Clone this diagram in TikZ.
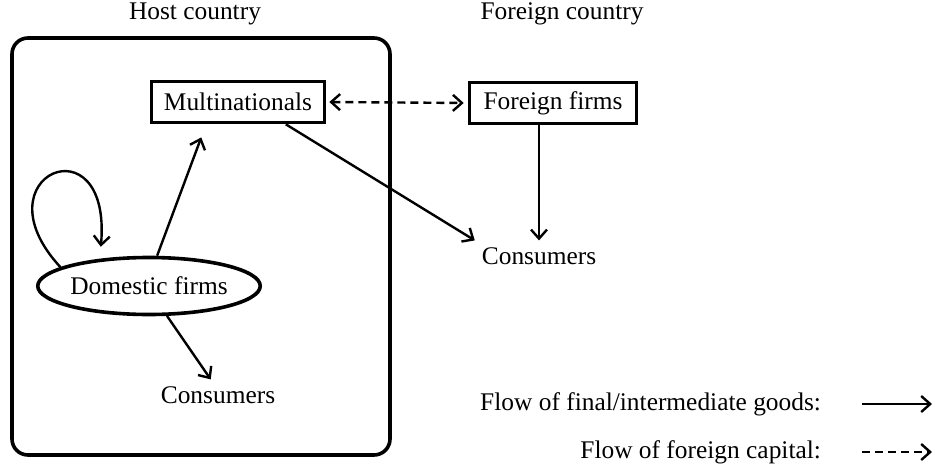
\documentclass[tikz,border=0pt]{standalone}
\usepackage{fontspec}
\setmainfont{Liberation Serif}
\usetikzlibrary{arrows.meta,shapes.geometric}

\begin{document}
\begin{tikzpicture}[>={Straight Barb[length=4.5pt,width=8pt]}, x=0.5pt, y=-0.5pt,
    every node/.style={font=\fontsize{12.7}{15}\selectfont},
    firm/.style={draw, line width=1.8pt, minimum height=20.5pt, inner xsep=4pt},
    flow/.style={->, line width=1.2pt},
    capital/.style={<->, line width=1.2pt, dashed, dash pattern=on 4pt off 2.5pt}]
\useasboundingbox (0,0) rectangle (935,470);
\node (hosttitle) at (195,14) {Host country};
\node (fortitle) at (562,14) {Foreign country};
\draw[line width=1.8pt, rounded corners=8pt] (12,38) rectangle (390,455);

\node[firm, minimum width=86.5pt] (multi) at (238,102) {Multinationals};
\node[firm, minimum width=83.5pt] (ff) at (553,103) {Foreign firms};
\node[draw, ellipse, line width=1.8pt, minimum width=109pt, minimum height=28.5pt, inner sep=0pt] (dom) at (149,286) {Domestic firms};
\node (fcons) at (539,256) {Consumers};
\node (hcons) at (218,395) {Consumers};

\draw[capital, shorten <=1.5pt, shorten >=2pt] (multi.east) -- (ff.west);
\draw[flow] (fcons.north |- ff.south) -- (fcons.north);
\draw[flow] (multi.-25) -- (fcons.north west);
\draw[flow, shorten >=7pt] (dom.75) -- (multi.-145);
\draw[flow] (dom.-59) -- (hcons.115);
\draw[flow, shorten >=6pt] (dom.168) .. controls (-25,175) and (112,118) .. (dom.151);

% legend
\node[anchor=east] (leggoods) at (828,404) {Flow of final/intermediate goods:};
\node[anchor=east] (legcap) at (828,452) {Flow of foreign capital:};
\coordinate (g1) at (862,404);
\coordinate (g2) at (932,404);
\coordinate (c1) at (862,452);
\coordinate (c2) at (932,452);
\draw[flow] (g1) -- (g2);
\draw[->, line width=1.2pt, dashed, dash pattern=on 4pt off 2.5pt] (c1) -- (c2);
\end{tikzpicture}
\end{document}
